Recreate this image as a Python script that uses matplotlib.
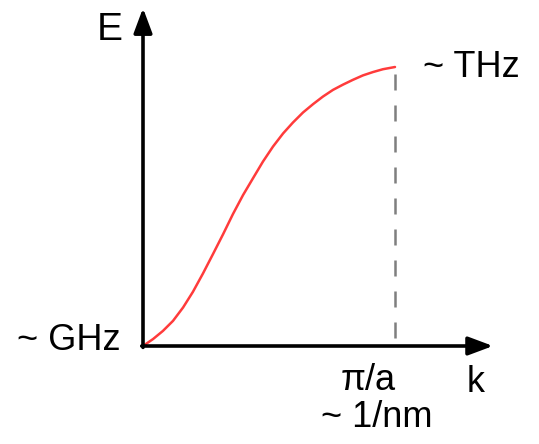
import matplotlib

matplotlib.use('Agg')
import matplotlib.pyplot as plt

# dispersion curve (k in units of pi/a, E normalised to the zone edge value)
k_vals = [0.0, 0.040, 0.079, 0.119, 0.159, 0.198, 0.238, 0.278, 0.318,
          0.357, 0.397, 0.437, 0.476, 0.516, 0.556, 0.595, 0.635, 0.675,
          0.714, 0.754, 0.794, 0.833, 0.873, 0.913, 0.952, 1.0]
e_vals = [0.0, 0.025, 0.054, 0.090, 0.138, 0.194, 0.260, 0.330, 0.401,
          0.473, 0.541, 0.602, 0.661, 0.715, 0.762, 0.801, 0.837, 0.867,
          0.894, 0.918, 0.937, 0.954, 0.970, 0.982, 0.992, 1.0]

k_edge = 1.0
e_edge = 1.0
axis_labels = ['k', 'E']
low_label = '~ GHz'
high_label = '~ THz'
edge_labels = ['π/a', '~ 1/nm']

plt.rcParams['font.family'] = ['Liberation Sans', 'DejaVu Sans']

fig = plt.figure(figsize=(5.39, 4.44), dpi=100)
ax = fig.add_axes([0, 0, 1, 1])
ax.set_xlim(-143 / 252, (539 - 143) / 252)
ax.set_ylim(-(444 - 346) / 279, 346 / 279)
ax.axis('off')

# axes with arrows
arrow = dict(arrowstyle='-|>,head_length=0.75,head_width=0.28', lw=2.6,
             color='black', shrinkA=0, shrinkB=0, mutation_scale=20)
ax.annotate('', xy=(1.389, 0), xytext=(-0.005, 0), arrowprops=arrow)
ax.annotate('', xy=(0, 1.211), xytext=(0, -0.005), arrowprops=arrow)

# zone edge marker
ax.plot([k_edge, k_edge], [0.029, e_edge], color='#7f7f7f', lw=1.8,
        linestyle=(0, (6.4, 6.0)))

ax.plot(k_vals, e_vals, color='#ff3b3b', lw=1.8, solid_capstyle='round',
        solid_joinstyle='round')

ax.text(-0.131, 1.133, axis_labels[1], fontsize=28, ha='center', va='center')
ax.text(1.321, -0.165, axis_labels[0], fontsize=26, ha='center', va='baseline')
ax.text(-0.088, -0.014, low_label, fontsize=26, ha='right', va='baseline')
ax.text(1.113, 0.964, high_label, fontsize=26, ha='left', va='baseline')
ax.text(0.893, -0.158, edge_labels[0], fontsize=26, ha='center', va='baseline')
ax.text(0.929, -0.290, edge_labels[1], fontsize=26, ha='center', va='baseline')

plt.savefig('out.png', dpi=100)
